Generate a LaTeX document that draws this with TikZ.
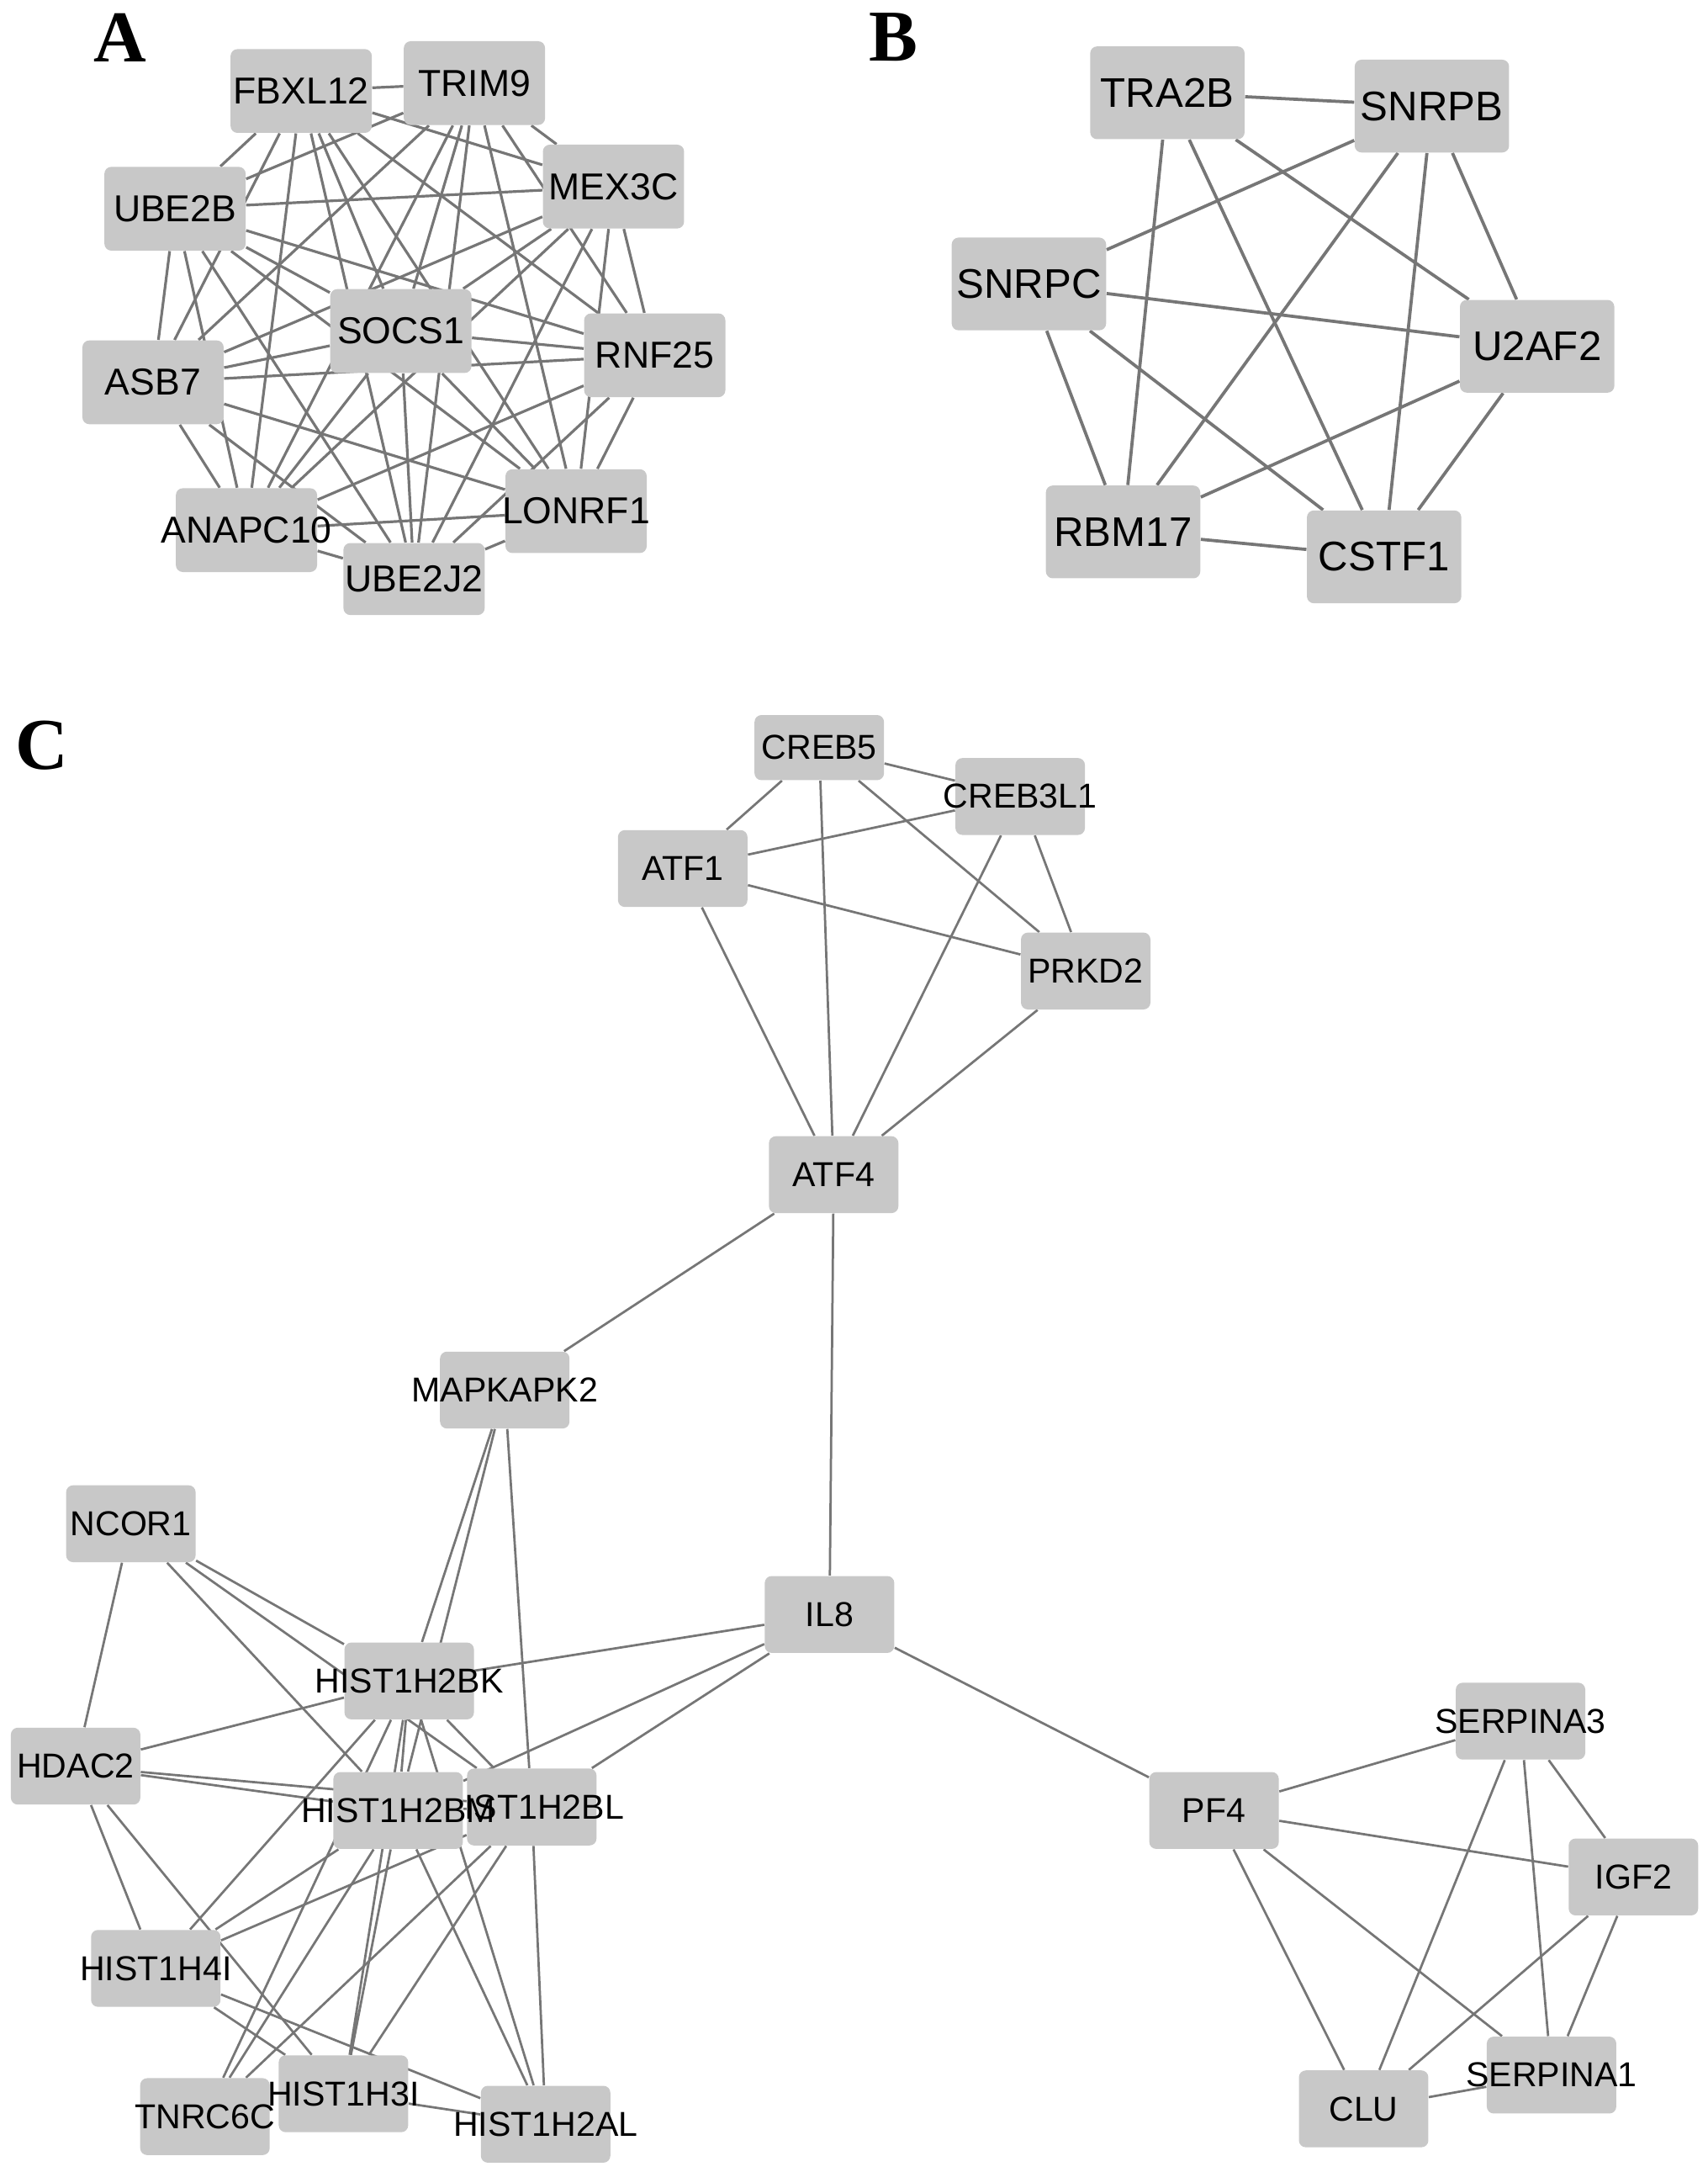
\documentclass[tikz,border=0pt]{standalone}
\usepackage{fontspec}
\setmainfont{Liberation Sans}
\newfontfamily\panelfont{Liberation Serif}
\usetikzlibrary{backgrounds}
\definecolor{boxgray}{HTML}{C8C8C8}
\definecolor{linkgray}{HTML}{767676}

\begin{document}
\begin{tikzpicture}[
    x=0.2mm, y=-0.2mm,
    gene/.style={fill=boxgray, rounded corners=1mm, inner sep=0pt, text=black,
                 execute at begin node={\hbox to 0pt\bgroup\hss},
                 execute at end node={\hss\egroup}},
    geneA/.style={gene, minimum width=20.4mm, minimum height=12.1mm, font=\fontsize{15.4}{18}\selectfont},
    geneB/.style={gene, minimum width=22.3mm, minimum height=13.4mm, font=\fontsize{17}{20}\selectfont},
    geneC/.style={gene, minimum width=18.7mm, minimum height=11.1mm, font=\fontsize{14.2}{17}\selectfont},
    linkA/.style={draw=linkgray, line width=1.1pt},
    linkB/.style={draw=linkgray, line width=1.3pt},
    linkC/.style={draw=linkgray, line width=0.95pt},
    panel/.style={font=\panelfont\bfseries\fontsize{30}{32}\selectfont, inner sep=0pt}
]
\useasboundingbox (0,0) rectangle (1233,1568);

% panel labels
\node[panel] (labA) at (87,27)  {A};
\node[panel] (labB) at (645,27) {B};
\node[panel] (labC) at (30,538) {C};

% A
\node[geneA] (fbxl)  at (217.5,65.7) {FBXL12};
\node[geneA] (trim)  at (342.6,60)   {TRIM9};
\node[geneA] (mex)   at (443,134.7)  {MEX3C};
\node[geneA] (ube2b) at (126.4,150.7) {UBE2B};
\node[geneA] (socs)  at (289.5,239)  {SOCS1};
\node[geneA] (rnf)   at (472.8,256.5) {RNF25};
\node[geneA] (asb)   at (110.5,276)  {ASB7};
\node[geneA] (anapc) at (178,382.7)  {ANAPC10};
\node[geneA] (lonrf) at (416,369)    {LONRF1};
\node[geneA, minimum height=10.4mm] (ube2j) at (299,418) {UBE2J2};

% B
\node[geneB] (tra)   at (843,67)     {TRA2B};
\node[geneB] (snrpb) at (1034,76.6)  {SNRPB};
\node[geneB] (snrpc) at (743,205)    {SNRPC};
\node[geneB] (u2af)  at (1110,250)   {U2AF2};
\node[geneB] (rbm)   at (811,384)    {RBM17};
\node[geneB] (cstf)  at (999.5,402)  {CSTF1};

% C
\node[geneC, minimum height=9.4mm] (creb5) at (591.6,539.7) {CREB5};
\node[geneC] (creb3)  at (736.7,575)   {CREB3L1};
\node[geneC] (atf1)   at (493,627)     {ATF1};
\node[geneC] (prkd)   at (784,701)     {PRKD2};
\node[geneC] (atf4)   at (602,848)     {ATF4};
\node[geneC] (mapk)   at (364.5,1003.5) {MAPKAPK2};
\node[geneC] (ncor)   at (94.5,1100)   {NCOR1};
\node[geneC] (il8)    at (599,1165.5)  {IL8};
\node[geneC] (bk)     at (295.5,1213.5) {HIST1H2BK};
\node[geneC] (hdac)   at (54.6,1275)   {HDAC2};
\node[geneC] (bl)     at (384,1304.5)  {HIST1H2BL};
\node[geneC] (bm)     at (287.5,1307)  {HIST1H2BM};
\node[geneC] (pf4)    at (876.7,1307)  {PF4};
\node[geneC] (serpa3) at (1098,1242.5) {SERPINA3};
\node[geneC] (igf)    at (1179.5,1355) {IGF2};
\node[geneC] (h4i)    at (112.5,1421)  {HIST1H4I};
\node[geneC] (serpa1) at (1120.4,1498) {SERPINA1};
\node[geneC] (clu)    at (984.7,1522.4) {CLU};
\node[geneC] (tnrc)   at (148,1528)    {TNRC6C};
\node[geneC] (h3i)    at (248,1511.5)  {HIST1H3I};
\node[geneC] (h2al)   at (394,1533.5)  {HIST1H2AL};

\begin{scope}[on background layer]
% A: every pair is linked
\draw[linkA] (fbxl) -- (trim) (fbxl) -- (mex) (fbxl) -- (ube2b) (fbxl) -- (socs) (fbxl) -- (rnf)
             (fbxl) -- (asb) (fbxl) -- (anapc) (fbxl) -- (lonrf) (fbxl) -- (ube2j);
\draw[linkA] (trim) -- (mex) (trim) -- (ube2b) (trim) -- (socs) (trim) -- (rnf) (trim) -- (asb)
             (trim) -- (anapc) (trim) -- (lonrf) (trim) -- (ube2j);
\draw[linkA] (mex) -- (ube2b) (mex) -- (socs) (mex) -- (rnf) (mex) -- (asb) (mex) -- (anapc)
             (mex) -- (lonrf) (mex) -- (ube2j);
\draw[linkA] (ube2b) -- (socs) (ube2b) -- (rnf) (ube2b) -- (asb) (ube2b) -- (anapc)
             (ube2b) -- (lonrf) (ube2b) -- (ube2j);
\draw[linkA] (socs) -- (rnf) (socs) -- (asb) (socs) -- (anapc) (socs) -- (lonrf) (socs) -- (ube2j);
\draw[linkA] (rnf) -- (asb) (rnf) -- (anapc) (rnf) -- (lonrf) (rnf) -- (ube2j);
\draw[linkA] (asb) -- (anapc) (asb) -- (lonrf) (asb) -- (ube2j);
\draw[linkA] (anapc) -- (lonrf) (anapc) -- (ube2j) (lonrf) -- (ube2j);

% B
\draw[linkB] (tra) -- (snrpb) (tra) -- (u2af) (tra) -- (rbm) (tra) -- (cstf);
\draw[linkB] (snrpb) -- (snrpc) (snrpb) -- (u2af) (snrpb) -- (rbm) (snrpb) -- (cstf);
\draw[linkB] (snrpc) -- (u2af) (snrpc) -- (rbm) (snrpc) -- (cstf);
\draw[linkB] (u2af) -- (rbm) (u2af) -- (cstf) (rbm) -- (cstf);

% C, top group
\draw[linkC] (creb5) -- (creb3) (creb5) -- (atf1) (creb5) -- (prkd) (creb5) -- (atf4);
\draw[linkC] (creb3) -- (atf1) (creb3) -- (prkd) (creb3) -- (atf4);
\draw[linkC] (atf1) -- (prkd) (atf1) -- (atf4) (prkd) -- (atf4);
\draw[linkC] (atf4) -- (mapk) (atf4) -- (il8) (il8) -- (pf4);
% C, right group
\draw[linkC] (pf4) -- (serpa3) (pf4) -- (igf) (pf4) -- (clu) (pf4) -- (serpa1);
\draw[linkC] (serpa3) -- (igf) (serpa3) -- (clu) (serpa3) -- (serpa1);
\draw[linkC] (igf) -- (clu) (igf) -- (serpa1) (clu) -- (serpa1);
% C, histone group
\draw[linkC] (mapk) -- (bk) (mapk) -- (bm) (mapk) -- (bl);
\draw[linkC] (il8) -- (bk) (il8) -- (bm) (il8) -- (bl);
\draw[linkC] (ncor) -- (hdac) (ncor) -- (bk) (ncor) -- (bm) (ncor) -- (bl);
\draw[linkC] (hdac) -- (bk) (hdac) -- (bm) (hdac) -- (bl) (hdac) -- (h4i) (hdac) -- (h3i);
\draw[linkC] (h4i) -- (bk) (h4i) -- (bm) (h4i) -- (bl) (h4i) -- (h3i) (h4i) -- (h2al);
\draw[linkC] (tnrc) -- (bk) (tnrc) -- (bm) (tnrc) -- (bl);
\draw[linkC] (h3i) -- (bk) (h3i) -- (bm) (h3i) -- (bl) (h3i) -- (h2al);
\draw[linkC] (h2al) -- (bk) (h2al) -- (bm) (h2al) -- (bl);
\draw[linkC] (bk) -- (bm) (bk) -- (bl) (bm) -- (bl);
\end{scope}
\end{tikzpicture}
\end{document}
